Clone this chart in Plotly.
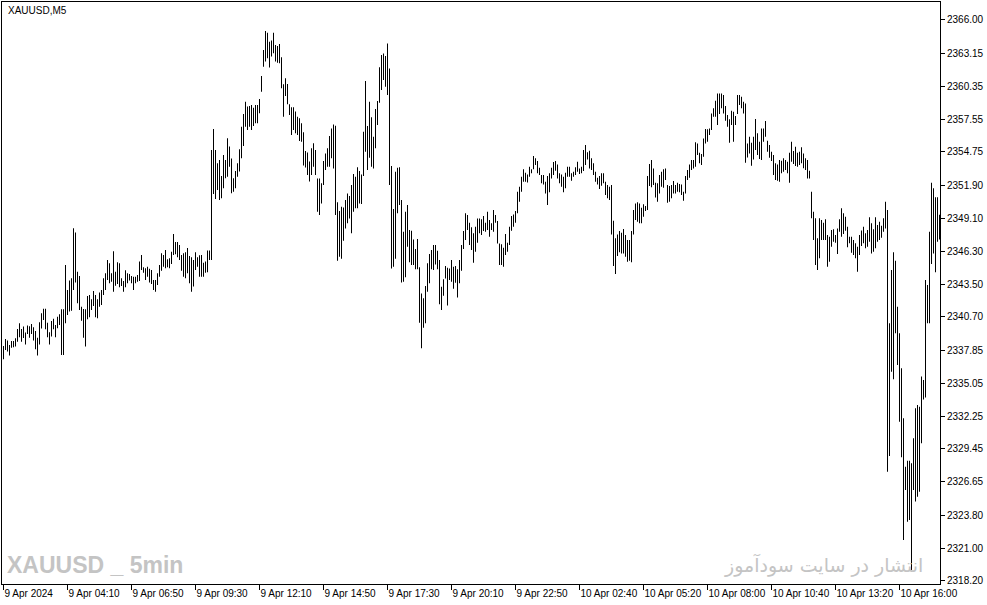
import plotly.graph_objects as go

# ---- data: 5-minute XAUUSD bars (index 0 = 9 Apr 2024 01:30) ----
highs = [
    2338.22, 2338.82, 2338.68, 2338.31, 2338.65, 2338.65, 2338.88, 2339.67, 2340.15, 2339.67,
    2339.87, 2339.36, 2339.96, 2339.90, 2340.10, 2339.81, 2339.50, 2338.93, 2340.24, 2341.01,
    2341.40, 2341.40, 2340.21, 2339.39, 2340.35, 2340.55, 2340.01, 2340.72, 2340.92, 2341.35,
    2341.35, 2345.12, 2342.99, 2343.79, 2343.99, 2348.25, 2347.88, 2344.55, 2344.19, 2341.57,
    2341.37, 2341.35, 2342.48, 2342.57, 2342.20, 2342.91, 2342.57, 2342.20, 2342.77, 2342.99,
    2343.99, 2344.41, 2345.55, 2345.27, 2344.41, 2346.29, 2344.55, 2345.35, 2345.27, 2343.99,
    2343.76, 2344.67, 2344.41, 2344.36, 2344.19, 2344.13, 2344.13, 2344.27, 2345.41, 2345.98,
    2344.92, 2344.84, 2344.98, 2344.81, 2344.70, 2343.85, 2343.85, 2344.42, 2345.13, 2346.12,
    2345.98, 2346.40, 2345.61, 2345.69, 2346.26, 2347.77, 2347.09, 2347.09, 2346.83, 2345.98,
    2346.12, 2346.21, 2346.57, 2345.89, 2345.78, 2345.55, 2346.21, 2345.78, 2345.95, 2345.98,
    2345.32, 2345.41, 2346.35, 2346.35, 2354.92, 2356.71, 2354.92, 2353.79, 2354.07, 2352.71,
    2354.50, 2354.07, 2355.92, 2355.21, 2354.19, 2352.51, 2353.13, 2353.79, 2354.98, 2356.91,
    2357.99, 2359.04, 2358.62, 2358.67, 2358.76, 2358.53, 2358.76, 2358.76, 2359.27, 2361.23,
    2363.44, 2365.06, 2364.92, 2364.15, 2364.24, 2364.92, 2363.87, 2363.78, 2363.96, 2362.82,
    2360.52, 2361.03, 2360.55, 2358.81, 2358.56, 2358.56, 2358.19, 2357.76, 2357.62, 2357.20,
    2356.43, 2354.84, 2354.70, 2353.93, 2355.07, 2355.49, 2354.92, 2352.50, 2352.50, 2352.08,
    2353.98, 2354.63, 2355.06, 2356.11, 2356.76, 2357.10, 2356.99, 2350.46, 2349.72, 2350.09,
    2350.03, 2350.66, 2351.22, 2351.00, 2351.93, 2352.87, 2352.64, 2353.44, 2353.13, 2352.84,
    2356.48, 2360.79, 2356.96, 2359.03, 2357.70, 2356.05, 2358.41, 2359.09, 2361.96, 2363.01,
    2363.15, 2362.92, 2364.00, 2361.87, 2353.55, 2349.89, 2353.07, 2353.41, 2353.44, 2350.66,
    2347.96, 2349.66, 2350.23, 2348.10, 2348.04, 2347.30, 2346.48, 2347.33, 2344.92, 2342.70,
    2342.28, 2343.33, 2345.26, 2346.06, 2346.40, 2346.82, 2346.82, 2346.34, 2345.54, 2343.27,
    2343.90, 2345.03, 2344.89, 2344.83, 2345.54, 2344.98, 2345.03, 2344.75, 2345.54, 2346.82,
    2348.01, 2349.52, 2349.38, 2348.72, 2348.33, 2347.82, 2348.38, 2349.09, 2349.09, 2349.01,
    2349.29, 2348.72, 2349.66, 2348.95, 2348.67, 2349.80, 2349.38, 2348.87, 2346.96, 2346.88,
    2346.59, 2347.76, 2347.02, 2348.38, 2349.29, 2349.43, 2349.72, 2351.37, 2351.79, 2352.64,
    2353.27, 2352.98, 2352.84, 2353.50, 2353.27, 2354.40, 2354.21, 2353.98, 2353.41, 2352.79,
    2352.79, 2352.22, 2352.70, 2352.93, 2353.41, 2353.89, 2353.98, 2353.69, 2352.93, 2352.84,
    2352.64, 2352.98, 2353.50, 2353.50, 2352.93, 2353.07, 2353.44, 2353.92, 2353.35, 2353.50,
    2354.92, 2355.34, 2354.72, 2354.86, 2354.21, 2353.78, 2353.07, 2352.56, 2352.70, 2352.93,
    2352.93, 2352.22, 2351.93, 2351.79, 2351.93, 2348.90, 2347.39, 2347.73, 2348.01, 2347.87,
    2348.19, 2347.67, 2347.25, 2347.25, 2348.01, 2349.80, 2350.37, 2350.46, 2350.37, 2350.00,
    2350.29, 2350.14, 2352.70, 2353.72, 2354.06, 2353.35, 2352.13, 2352.08, 2352.79, 2353.07,
    2353.27, 2353.35, 2351.93, 2351.85, 2351.93, 2352.27, 2351.93, 2352.13, 2352.02, 2351.99,
    2351.37, 2352.70, 2353.21, 2353.69, 2354.06, 2354.06, 2355.57, 2355.48, 2354.69, 2354.58,
    2355.91, 2356.71, 2356.68, 2356.76, 2358.04, 2358.47, 2359.12, 2359.74, 2359.74, 2359.74,
    2359.60, 2358.66, 2357.90, 2357.53, 2358.27, 2358.18, 2357.81, 2359.60, 2359.60, 2359.46,
    2359.03, 2358.89, 2355.48, 2356.05, 2355.54, 2356.05, 2357.56, 2356.34, 2355.63, 2356.76,
    2356.76, 2357.39, 2355.71, 2355.34, 2354.77, 2354.49, 2353.78, 2353.69, 2354.06, 2354.01,
    2354.21, 2354.07, 2353.92, 2354.69, 2355.63, 2354.83, 2355.20, 2354.69, 2354.78, 2355.15,
    2354.63, 2354.21, 2354.07, 2353.16, 2351.37, 2349.66, 2349.10, 2347.39, 2349.10, 2348.95,
    2348.73, 2349.01, 2347.68, 2347.53, 2348.10, 2348.16, 2347.68, 2348.24, 2349.01, 2349.95,
    2349.52, 2349.24, 2348.39, 2347.53, 2347.53, 2347.25, 2346.97, 2346.68, 2347.68, 2348.05,
    2348.39, 2347.82, 2348.10, 2349.18, 2348.67, 2348.16, 2349.18, 2348.53, 2348.81, 2348.47,
    2349.10, 2350.52, 2349.81, 2340.15, 2344.69, 2346.20, 2345.49, 2341.57, 2339.30, 2336.32,
    2332.06, 2327.94, 2328.45, 2328.45, 2328.22, 2330.35, 2332.91, 2333.19, 2333.05, 2335.61,
    2335.32, 2343.84, 2343.42, 2347.96, 2352.13, 2351.65, 2350.90, 2350.90, 2349.40,
]

lows = [
    2337.09, 2337.88, 2337.74, 2337.40, 2338.08, 2338.11, 2338.17, 2338.59, 2338.96, 2338.59,
    2338.90, 2338.34, 2339.25, 2338.93, 2339.25, 2338.68, 2337.94, 2337.40, 2338.34, 2339.70,
    2340.44, 2339.64, 2338.96, 2338.34, 2339.02, 2339.64, 2338.96, 2339.73, 2340.01, 2337.46,
    2337.46, 2340.15, 2340.86, 2341.15, 2341.23, 2342.99, 2343.62, 2341.86, 2341.29, 2340.38,
    2338.93, 2338.17, 2340.49, 2340.66, 2341.29, 2341.63, 2340.66, 2340.58, 2341.57, 2341.72,
    2342.57, 2342.99, 2343.85, 2343.56, 2343.70, 2342.85, 2343.36, 2343.50, 2343.22, 2343.33,
    2342.85, 2343.22, 2343.56, 2343.79, 2343.56, 2342.99, 2343.56, 2343.70, 2343.76, 2344.70,
    2344.47, 2343.85, 2344.13, 2343.62, 2343.50, 2342.99, 2342.85, 2343.42, 2344.13, 2344.64,
    2344.98, 2344.84, 2344.93, 2344.84, 2345.21, 2345.98, 2346.03, 2345.78, 2345.55, 2344.64,
    2344.13, 2343.99, 2344.42, 2343.56, 2342.85, 2343.28, 2344.70, 2344.98, 2344.13, 2344.13,
    2344.13, 2344.47, 2344.50, 2345.55, 2345.55, 2351.18, 2350.75, 2351.52, 2350.66, 2350.81,
    2351.66, 2352.51, 2352.65, 2353.50, 2351.23, 2351.37, 2351.66, 2352.65, 2353.08, 2354.21,
    2355.26, 2356.91, 2356.63, 2356.91, 2356.63, 2356.97, 2357.20, 2357.20, 2358.05, 2359.89,
    2362.02, 2362.45, 2362.73, 2361.94, 2362.88, 2363.16, 2362.45, 2362.36, 2362.31, 2360.18,
    2357.76, 2359.52, 2358.81, 2357.91, 2356.20, 2356.63, 2356.34, 2356.20, 2355.69, 2355.63,
    2353.59, 2353.42, 2352.79, 2352.23, 2352.79, 2353.50, 2352.79, 2349.66, 2349.38, 2350.37,
    2351.93, 2353.21, 2353.50, 2353.50, 2354.21, 2353.35, 2349.38, 2345.49, 2345.83, 2345.66,
    2347.19, 2348.24, 2348.67, 2349.09, 2347.82, 2349.66, 2349.95, 2349.95, 2350.37, 2350.32,
    2352.70, 2354.77, 2353.21, 2354.26, 2353.50, 2353.35, 2355.06, 2357.05, 2358.95, 2360.03,
    2360.88, 2360.31, 2359.60, 2351.93, 2344.83, 2344.98, 2345.66, 2349.52, 2350.23, 2343.64,
    2343.70, 2344.07, 2346.68, 2345.35, 2345.12, 2345.12, 2344.75, 2344.75, 2340.20, 2338.02,
    2339.78, 2340.15, 2342.85, 2343.56, 2344.75, 2344.69, 2345.17, 2344.75, 2341.77, 2341.28,
    2342.50, 2343.98, 2341.68, 2343.84, 2343.70, 2343.10, 2343.61, 2342.36, 2343.56, 2344.63,
    2346.48, 2347.25, 2348.10, 2346.82, 2346.40, 2345.32, 2346.25, 2347.02, 2347.82, 2347.67,
    2348.01, 2347.96, 2348.10, 2347.53, 2348.10, 2347.96, 2348.72, 2346.96, 2345.12, 2345.12,
    2344.98, 2345.97, 2346.25, 2346.82, 2348.04, 2348.38, 2348.72, 2349.52, 2350.51, 2351.37,
    2352.22, 2352.22, 2352.16, 2352.64, 2352.93, 2353.27, 2353.64, 2352.93, 2352.79, 2352.08,
    2351.99, 2351.22, 2350.23, 2351.31, 2352.50, 2352.79, 2353.16, 2352.50, 2352.08, 2351.79,
    2351.31, 2351.65, 2352.64, 2352.64, 2352.30, 2352.64, 2352.79, 2353.07, 2352.87, 2352.93,
    2353.13, 2353.64, 2354.12, 2353.35, 2353.21, 2352.79, 2352.22, 2351.99, 2351.59, 2351.88,
    2352.08, 2351.08, 2350.80, 2350.66, 2347.73, 2345.03, 2344.35, 2345.88, 2346.20, 2346.11,
    2346.11, 2345.83, 2345.40, 2345.49, 2345.35, 2347.73, 2348.95, 2348.81, 2348.67, 2348.67,
    2349.24, 2349.72, 2349.80, 2351.85, 2351.74, 2351.93, 2350.88, 2350.51, 2351.22, 2351.79,
    2351.71, 2352.36, 2350.43, 2350.51, 2350.80, 2351.22, 2351.22, 2351.37, 2351.31, 2351.08,
    2350.60, 2351.22, 2352.36, 2352.56, 2353.21, 2353.35, 2353.50, 2354.49, 2353.78, 2353.64,
    2354.35, 2355.48, 2355.63, 2356.19, 2356.62, 2357.76, 2357.76, 2357.05, 2357.98, 2358.47,
    2358.04, 2357.42, 2356.90, 2355.54, 2357.05, 2355.63, 2357.05, 2357.98, 2358.75, 2358.47,
    2358.04, 2353.84, 2354.29, 2354.63, 2353.58, 2354.12, 2354.92, 2354.49, 2354.15, 2354.06,
    2355.63, 2356.05, 2354.77, 2354.26, 2353.98, 2352.79, 2352.36, 2352.30, 2352.22, 2352.93,
    2353.07, 2353.21, 2352.93, 2352.13, 2353.92, 2353.73, 2353.55, 2353.50, 2353.64, 2353.78,
    2353.36, 2353.21, 2352.50, 2352.50, 2349.10, 2347.25, 2345.12, 2344.69, 2345.69, 2347.25,
    2347.25, 2347.25, 2344.98, 2345.40, 2346.68, 2347.11, 2347.02, 2346.06, 2347.96, 2347.53,
    2347.76, 2348.04, 2346.63, 2346.97, 2346.17, 2345.97, 2345.69, 2344.55, 2345.97, 2346.74,
    2346.97, 2346.54, 2346.68, 2347.11, 2346.11, 2346.26, 2346.54, 2347.11, 2347.25, 2347.45,
    2347.96, 2348.24, 2327.51, 2328.85, 2336.03, 2335.38, 2339.30, 2336.60, 2331.77, 2328.73,
    2321.69, 2325.95, 2323.25, 2323.39, 2319.13, 2325.95, 2324.96, 2325.38, 2325.81, 2329.93,
    2333.67, 2333.84, 2340.15, 2340.15, 2345.20, 2346.11, 2344.50, 2347.10, 2347.30,
]

x_tick_labels = ["9 Apr 2024", "9 Apr 04:10", "9 Apr 06:50", "9 Apr 09:30", "9 Apr 12:10",
                 "9 Apr 14:50", "9 Apr 17:30", "9 Apr 20:10", "9 Apr 22:50", "10 Apr 02:40",
                 "10 Apr 05:20", "10 Apr 08:00", "10 Apr 10:40", "10 Apr 13:20", "10 Apr 16:00"]
bars_per_label = 32
y_tick_labels = ["2366.00", "2363.15", "2360.35", "2357.55", "2354.75", "2351.90",
                 "2349.10", "2346.30", "2343.50", "2340.70", "2337.85", "2335.05",
                 "2332.25", "2329.45", "2326.65", "2323.80", "2321.00", "2318.20"]

n = len(highs)
idx = list(range(n))
spans = [h - l for h, l in zip(highs, lows)]

fig = go.Figure()
fig.add_trace(go.Bar(
    x=idx, y=spans, base=lows, width=0.5,
    marker=dict(color="black", line=dict(width=0)),
    hoverinfo="skip",
))

axis_font = dict(family="Liberation Sans, Arial, sans-serif", size=10, color="black")

fig.update_layout(
    width=987, height=605,
    margin=dict(l=2, r=47, t=2, b=21, autoexpand=False),
    paper_bgcolor="white", plot_bgcolor="white",
    showlegend=False,
    font=axis_font,
    xaxis=dict(
        range=[-0.75, n - 0.75],
        tickmode="array",
        tickvals=[k * bars_per_label for k in range(len(x_tick_labels))],
        ticktext=x_tick_labels,
        tickangle=0,
        ticks="outside", ticklen=5, tickcolor="black", tickwidth=1,
        ticklabelposition="outside right",
        tickfont=axis_font,
        automargin=False,
        showline=True, linecolor="black", linewidth=1, mirror=True,
        showgrid=False, zeroline=False, fixedrange=True,
    ),
    yaxis=dict(
        side="right",
        range=[2317.94, 2367.53],
        tickmode="array",
        tickvals=[float(t) for t in y_tick_labels],
        ticktext=y_tick_labels,
        ticks="outside", ticklen=4, tickcolor="black", tickwidth=1,
        tickfont=axis_font,
        automargin=False,
        showline=True, linecolor="black", linewidth=1, mirror=True,
        showgrid=False, zeroline=False, fixedrange=True,
    ),
    annotations=[
        dict(text="XAUUSD,M5", xref="paper", yref="paper", x=0.004, y=0.986,
             xanchor="left", yanchor="middle", showarrow=False,
             font=dict(family="Liberation Sans, Arial, sans-serif", size=10, color="black")),
        dict(text="XAUUSD _ 5min", xref="paper", yref="paper", x=0.003, y=0.032,
             xanchor="left", yanchor="middle", showarrow=False,
             font=dict(family="Liberation Sans, sans-serif",
                       size=23, color="#c4c4c4", weight="bold")),
        dict(text="انتشار در سایت سودآموز", xref="paper", yref="paper", x=0.984, y=0.032,
             xanchor="right", yanchor="middle", showarrow=False,
             font=dict(family="DejaVu Sans, sans-serif", size=19, color="#c4c4c4")),
    ],
)

fig.write_html("out.html", config={"displayModeBar": False},
               post_script="document.body.style.margin='0';document.body.style.padding='0';")
